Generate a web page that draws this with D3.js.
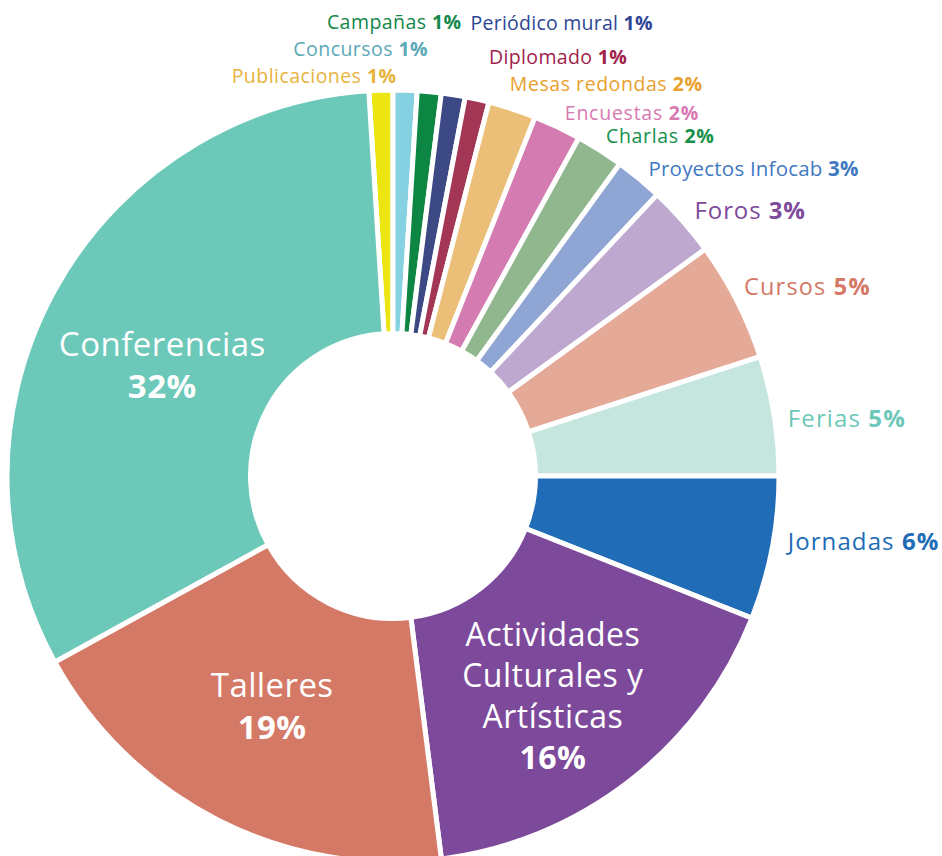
<!DOCTYPE html>
<html><head><meta charset="utf-8">
<script src="https://cdn.jsdelivr.net/npm/d3@7"></script>
<style>body{margin:0;background:#fff}svg{display:block}</style>
</head><body>
<svg id="chart" width="942" height="856"></svg>
<script>
// ---- data ----
const categories = ["Publicaciones","Concursos","Campañas","Periódico mural","Diplomado","Mesas redondas","Encuestas","Charlas","Proyectos Infocab","Foros","Cursos","Ferias","Jornadas","Actividades Culturales y Artísticas","Talleres","Conferencias"];
const values = [1,1,1,1,1,2,2,2,2,3,5,5,6,17,19,32];
const labelPct = ["1%","1%","1%","1%","1%","2%","2%","2%","3%","3%","5%","5%","6%","16%","19%","32%"];
const innerLines = {"Actividades Culturales y Artísticas":["Actividades","Culturales y","Artísticas"],"Talleres":["Talleres"],"Conferencias":["Conferencias"]};

// ---- styles ----
const sliceColors = ["#ECE512","#86D1E1","#0D8643","#3C4984","#A33555","#ECBF78","#D47BB1","#91B78F","#8FA6D5","#BEA8CF","#E5A998","#C4E6DE","#206CB6","#7D4A9B","#D57967","#6CC8B8"];
const labelColors = ["#E8B33C","#5AA8B8","#12884A","#2E4694","#A0224A","#E99F2E","#D879B2","#15904A","#3F79C1","#7E4A9B","#D57967","#6CC8B8","#206CB6","#fff","#fff","#fff"];
// label placement (polar: degrees clockwise from top, radius), anchor, font size, letter spacing, line height
const labelLayout = [
  [0.5,400,"end",19.5,0.45],[4.7,428,"end",19.5,0.45],[8.6,459,"end",19.5,0.45],[9.7,460,"start",19.5,0.25],[12.9,430,"start",19.5,0.35],
  [16.6,409,"start",19.5,0.55],[25.3,402,"start",19.5,0.75],[32.1,401,"start",19.5,0.65],[39.7,400,"start",20.5,0.2],
  [48.6,402,"start",24,0.9],[61.6,399,"start",23.5,1.2],[81.75,399,"start",24,1.1],[99.4,400,"start",24,1.1],
  [144,272,"middle",32,0.5,41],[207.7,260,"middle",33,0.4,42.5],[295.7,256,"middle",33,0.5,42.5]
];
const cx = 393, cy = 476, rOuter = 386, rInner = 142.5;
const FONT = "'Open Sans', sans-serif";

const svg = d3.select("#chart");
const g = svg.append("g").attr("transform", `translate(${cx},${cy})`);
const start = -3.6 * Math.PI / 180;
const pie = d3.pie().sort(null).value(d => d).startAngle(start).endAngle(start + 2*Math.PI);
const arcs = pie(values);
const arc = d3.arc().innerRadius(rInner).outerRadius(rOuter);

g.selectAll("path.slice").data(arcs).join("path")
  .attr("class","slice")
  .attr("d", arc)
  .attr("fill", (d,i) => sliceColors[i])
  .attr("stroke", "#fff").attr("stroke-width", 5).attr("stroke-linejoin","miter");

const pos = (deg, r) => [r*Math.sin(deg*Math.PI/180), -r*Math.cos(deg*Math.PI/180)];

categories.forEach((name, i) => {
  const [deg, r, anchor, fs, ls, lh] = labelLayout[i];
  const [x, y] = pos(deg, r);
  if (innerLines[name]) {
    const lines = innerLines[name].map(t => ({t, bold:false})).concat([{t: labelPct[i], bold:true}]);
    const top = y - (lines.length - 1) * lh / 2;
    lines.forEach((ln, k) => {
      g.append("text")
        .attr("x", x).attr("y", top + k*lh + 0.36*fs)
        .attr("text-anchor", "middle")
        .attr("font-family", FONT).attr("font-size", fs)
        .attr("letter-spacing", ls)
        .attr("font-weight", ln.bold ? 700 : 400)
        .attr("fill", labelColors[i])
        .text(ln.t);
    });
  } else {
    const t = g.append("text")
      .attr("x", x).attr("y", y + 0.36*fs)
      .attr("text-anchor", anchor)
      .attr("font-family", FONT).attr("font-size", fs)
      .attr("letter-spacing", ls)
      .attr("fill", labelColors[i]);
    t.append("tspan").attr("font-weight", 400).text(name + " ");
    t.append("tspan").attr("font-weight", 700).text(labelPct[i]);
  }
});
</script>
</body></html>
